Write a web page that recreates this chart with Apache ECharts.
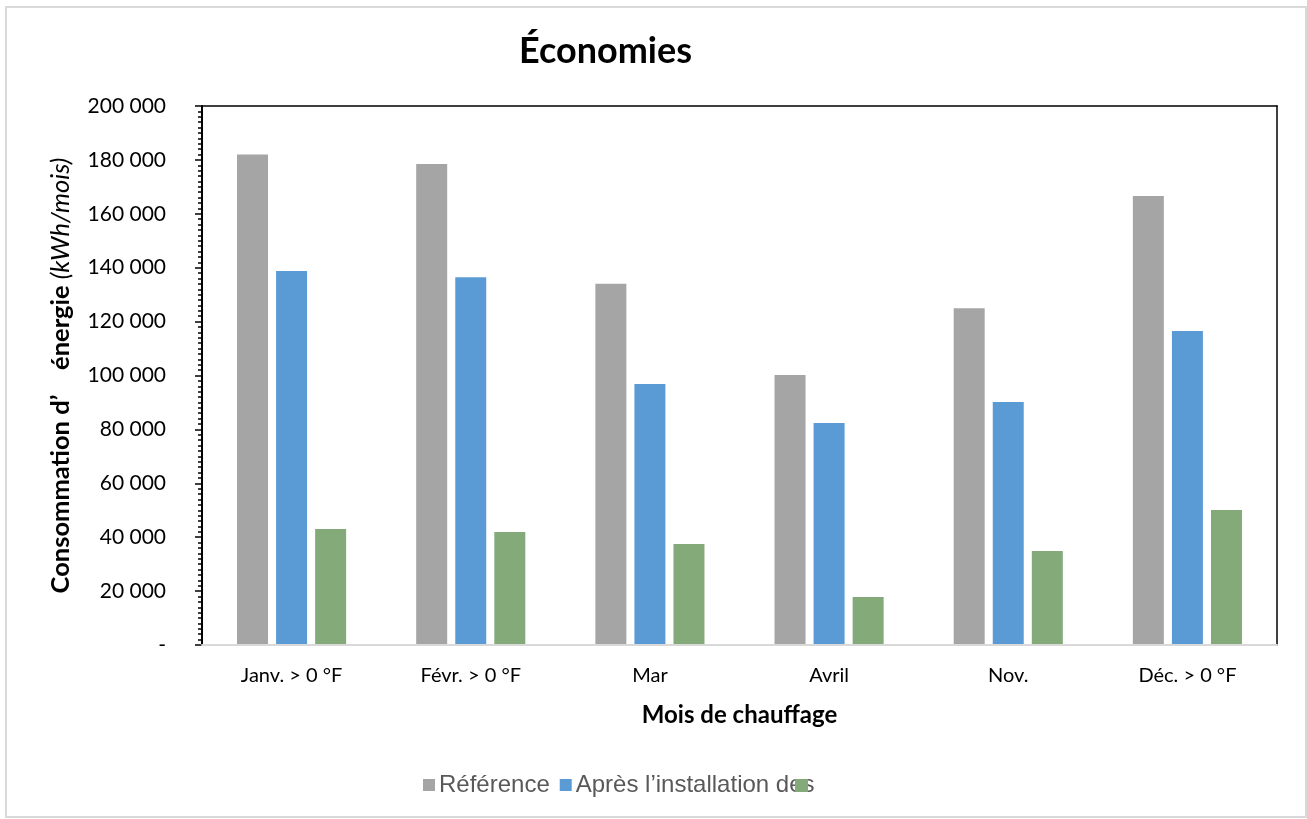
<!DOCTYPE html>
<html>
<head>
<meta charset="utf-8">
<script src="https://cdn.jsdelivr.net/npm/echarts@6/dist/echarts.min.js"></script>
<style>
  html, body { margin: 0; padding: 0; background: #fff; }
  #chart { width: 1307px; height: 819px; }
</style>
</head>
<body>
<div id="chart"></div>
<script>
// Heating months and monthly energy use (kWh/month)
const categories = ['Janv. > 0 °F', 'Févr. > 0 °F', 'Mar', 'Avril', 'Nov.', 'Déc. > 0 °F'];
const reference = [182000, 178500, 134000, 100200, 125000, 166600];
const afterInstall = [138800, 136500, 96800, 82400, 90200, 116500];
const savings = [43000, 41900, 37500, 17800, 34900, 50100];
const yTicks = { min: 0, max: 200000, interval: 20000 };

const fmt = v => v === 0 ? '-' : String(v).replace(/\B(?=(\d{3})+(?!\d))/g, ' ');

const chart = echarts.init(document.getElementById('chart'), null, { renderer: 'canvas' });

chart.setOption({
  backgroundColor: '#ffffff',
  animation: false,
  title: {
    text: 'Économies',
    left: 514,
    top: 28,
    textStyle: { fontFamily: 'Lato', fontWeight: 'bold', fontSize: 36, color: '#000' }
  },
  graphic: [{
    type: 'rect',
    shape: { x: 6, y: 7, width: 1300, height: 810 },
    style: { fill: 'none', stroke: '#d9d9d9', lineWidth: 2 },
    silent: true
  }],
  legend: [{
    data: ['Référence', 'Après l’installation des'],
    left: 423,
    top: 773,
    padding: 0,
    icon: 'rect',
    itemWidth: 12,
    itemHeight: 12,
    itemGap: 10,
    textStyle: { fontFamily: 'Liberation Sans', fontSize: 24, color: '#595959', padding: [0, 0, 0, -1] }
  }, {
    data: ['Économies'],
    left: 795,
    top: 779,
    padding: 0,
    icon: 'rect',
    itemWidth: 13,
    itemHeight: 13,
    formatter: () => '',
    textStyle: { fontFamily: 'Liberation Sans', fontSize: 24, color: '#595959' }
  }],
  grid: { left: 202, right: 30, top: 106, bottom: 174, containLabel: false },
  xAxis: [{
    type: 'category',
    data: categories,
    position: 'bottom',
    name: 'Mois de chauffage',
    nameLocation: 'middle',
    nameGap: 58,
    nameTextStyle: { fontFamily: 'Lato', fontWeight: 'bold', fontSize: 24, color: '#000' },
    axisLine: { lineStyle: { color: '#d9d9d9', width: 2 } },
    axisTick: { show: false },
    axisLabel: { margin: 21, fontFamily: 'Lato', fontSize: 20, color: '#000' },
    z: 5
  }, {
    type: 'category',
    data: categories,
    position: 'top',
    axisLine: { show: true, onZero: false, lineStyle: { color: '#000', width: 1.5 } },
    axisTick: { show: false },
    axisLabel: { show: false }
  }],
  yAxis: [{
    type: 'value',
    min: yTicks.min,
    max: yTicks.max,
    interval: yTicks.interval,
    name: '{b|Consommation d’    énergie }{i|(kWh/mois)}',
    nameLocation: 'middle',
    nameRotate: 90,
    nameGap: 128,
    nameTextStyle: {
      rich: {
        b: { fontFamily: 'Lato', fontWeight: 'bold', fontSize: 25.5, color: '#000' },
        i: { fontFamily: 'Lato', fontStyle: 'italic', fontSize: 25.5, color: '#000' }
      }
    },
    axisLine: { show: true, lineStyle: { color: '#000', width: 2 } },
    axisTick: { show: true, length: 7, lineStyle: { color: '#000', width: 1.5 } },
    minorTick: { show: true, splitNumber: 10, length: 4, lineStyle: { color: '#000', width: 1.5 } },
    splitLine: { show: false },
    axisLabel: { margin: 36, fontFamily: 'Lato', fontSize: 21, color: '#000', formatter: fmt }
  }, {
    type: 'value',
    position: 'right',
    axisLine: { show: true, onZero: false, lineStyle: { color: '#000', width: 1.5 } },
    axisTick: { show: false },
    axisLabel: { show: false },
    splitLine: { show: false }
  }],
  series: [{
    name: 'Référence',
    type: 'bar',
    data: reference,
    barWidth: 31,
    barGap: '26%',
    itemStyle: { color: '#a5a5a5' }
  }, {
    name: 'Après l’installation des',
    type: 'bar',
    data: afterInstall,
    barWidth: 31,
    barGap: '26%',
    itemStyle: { color: '#5b9bd5' }
  }, {
    name: 'Économies',
    type: 'bar',
    data: savings,
    barWidth: 31,
    barGap: '26%',
    itemStyle: { color: '#84aa7a' }
  }]
});
</script>
</body>
</html>
